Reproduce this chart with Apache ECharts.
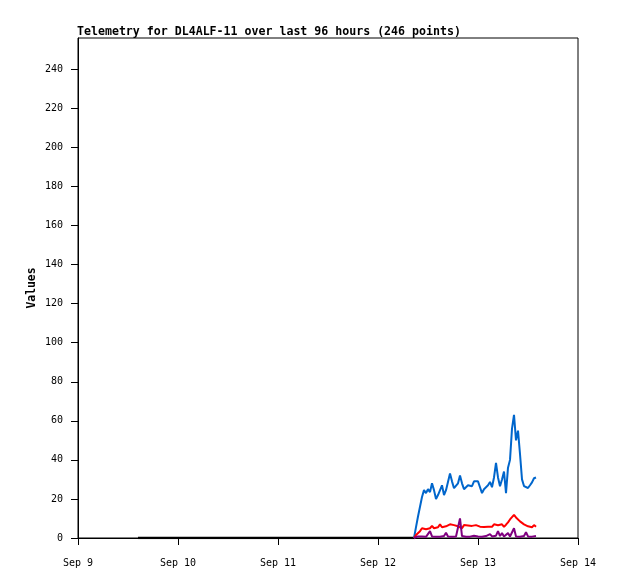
<!DOCTYPE html>
<html>
<head>
<meta charset="utf-8">
<script src="https://cdn.jsdelivr.net/npm/echarts@6/dist/echarts.min.js"></script>
<style>
html,body{margin:0;padding:0;background:#fff;}
#chart{width:618px;height:579px;}
</style>
</head>
<body>
<div id="chart"></div>
<script>
// Data (x = day of September, fractional)
var titleText = 'Telemetry for DL4ALF-11 over last 96 hours (246 points)';
var yTicks = [0, 20, 40, 60, 80, 100, 120, 140, 160, 180, 200, 220, 240];
var xTicks = [9, 10, 11, 12, 13, 14];

var blackTimes = [9.60, 10.20, 10.80, 11.40, 12.00, 12.37];
var blackValues = [0, 0, 0, 0, 0, 0];

var times = [12.36,12.38,12.40,12.42,12.44,12.46,12.48,12.50,12.52,12.54,
             12.56,12.58,12.60,12.62,12.64,12.66,12.68,12.70,12.72,12.74,
             12.76,12.78,12.80,12.82,12.84,12.86,12.88,12.90,12.92,12.94,
             12.96,12.98,13.00,13.02,13.04,13.06,13.08,13.10,13.12,13.14,
             13.16,13.18,13.20,13.22,13.24,13.26,13.28,13.30,13.32,13.34,
             13.36,13.38,13.40,13.42,13.44,13.46,13.48,13.50,13.52,13.54,
             13.56,13.58];

var blueValues = [0,5.6,11,16,21,24.5,23,25,23.5,28,
                  24.5,20,22,23,27,22,24.5,25,33,29,
                  25.5,25,28,32,28,25,25.5,27,28,26.5,
                  29,28,29,26,23,25,24,27,28.7,26,
                  31,38.4,31,26.5,30,34,23,36,40,56,
                  63,50,55,43,30,26.6,25.6,25.6,27,28.5,
                  30.6,31];

var redValues = [0,1.5,2.5,3.5,5,6,4.5,5.5,5,6.2,
                 5,4.7,5.5,7,5.5,4.8,6,6.8,7,7,
                 6.6,5.8,6,5.5,5,6.6,5.8,6.4,6.3,6.2,
                 7,6.6,5.7,5.8,6,5.6,5.5,5.7,5.7,5.7,
                 7,7.7,6.5,5.8,7,5.7,6.8,8,9.5,10,
                 11.8,10.5,9.5,8.5,7.7,7,6.4,6,5.8,5.5,
                 6.6,5.7];

var purpleValues = [0,0.5,0.8,0.6,0.8,0.7,0.6,1,3.5,0.8,
                    0.6,0.7,0.8,0.6,0.7,1,2.7,0.8,0.6,0.7,
                    0.6,0.8,1.5,10,1,0.7,0.6,0.8,0.7,0.8,
                    1.2,2,0.8,0.7,0.6,0.8,1,0.8,2,0.8,
                    0.7,1.2,3.5,1,2.5,0.8,0.7,2.5,0.8,1.2,
                    5,0.8,0.7,0.6,0.7,1,3,0.8,0.6,0.7,
                    0.6,1];

function pairs(xs, ys){ return xs.map(function(x,i){ return [x, ys[i]]; }); }

var FONT = '"DejaVu Sans Mono", "Liberation Mono", monospace';
var chart = echarts.init(document.getElementById('chart'), null, {renderer:'canvas'});
chart.setOption({
  animation: false,
  backgroundColor: '#fff',
  title: {
    text: titleText,
    left: 72, top: 21,
    textStyle: {fontFamily: FONT, fontSize: 11.6, fontWeight: 'bold', color: '#000'}
  },
  grid: {left: 78, top: 38, right: 40, bottom: 41, show: true, borderColor: '#000', borderWidth: 1, backgroundColor: 'transparent'},
  xAxis: {
    type: 'value', min: 9, max: 14, interval: 1,
    axisLine: {show: true, lineStyle: {color: '#000', width: 1}},
    axisTick: {show: true, length: 7, lineStyle: {color: '#000'}},
    splitLine: {show: false},
    axisLabel: {
      fontFamily: FONT, fontSize: 10, color: '#000', margin: 20,
      formatter: function(v){ return 'Sep ' + v; },
      customValues: xTicks
    }
  },
  yAxis: {
    type: 'value', min: 0, max: 256,
    name: 'Values', nameLocation: 'middle', nameGap: 40, nameMoveOverlap: false,
    nameTextStyle: {fontFamily: FONT, fontSize: 11.4, fontWeight: 'bold', color: '#000'},
    axisLine: {show: true, lineStyle: {color: '#000', width: 1}},
    axisTick: {show: true, length: 7, lineStyle: {color: '#000'}, customValues: yTicks},
    splitLine: {show: false},
    axisLabel: {fontFamily: FONT, fontSize: 10, color: '#000', margin: 15, customValues: yTicks}
  },
  series: [
    {type: 'line', data: pairs(blackTimes, blackValues), showSymbol: false, lineStyle: {color: '#000', width: 2.5}, z: 1},
    {type: 'line', data: pairs(times, blueValues), showSymbol: false, lineStyle: {color: '#0066cc', width: 2}, z: 2},
    {type: 'line', data: pairs(times, redValues), showSymbol: false, lineStyle: {color: '#ff0000', width: 2}, z: 3},
    {type: 'line', data: pairs(times, purpleValues), showSymbol: false, lineStyle: {color: '#800080', width: 2}, z: 4}
  ]
});
</script>
</body>
</html>
